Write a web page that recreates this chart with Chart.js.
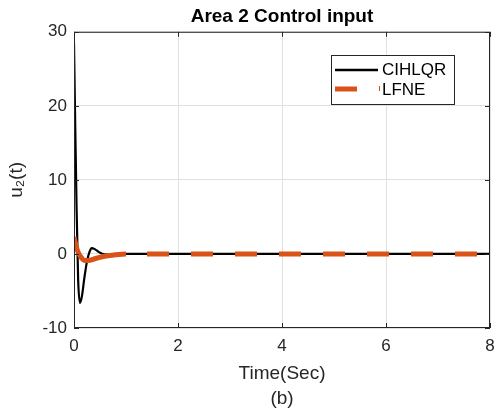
<!DOCTYPE html>
<html>
<head>
<meta charset="utf-8">
<script src="https://cdn.jsdelivr.net/npm/chart.js@4"></script>
<style>
  html, body { margin: 0; padding: 0; background: #fff; }
  canvas { display: block; }
</style>
</head>
<body>
<canvas id="grafico" width="494" height="412"></canvas>
<script>
// CIHLQR (black)
const tiempoNegro = [0, 0.02, 0.05, 0.08, 0.115, 0.15, 0.2, 0.25, 0.3, 0.34, 0.4, 0.48, 0.56, 0.7, 0.9, 1.2, 2, 3, 4, 5, 6, 7, 8];
const uNegro = [28.5, 19, 6, -3.5, -6.6, -5.8, -3.2, -1.0, 0.3, 0.8, 0.65, 0.25, 0.0, -0.1, 0, 0, 0, 0, 0, 0, 0, 0, 0];

// LFNE (orange, dashed)
const tiempoNaranja = [0, 0.03, 0.07, 0.12, 0.18, 0.22, 0.3, 0.4, 0.5, 0.65, 0.8, 1.0, 2, 3, 4, 5, 6, 7, 8];
const uNaranja = [2.3, 1.4, 0.4, -0.3, -0.8, -0.9, -0.85, -0.65, -0.45, -0.25, -0.1, 0, 0, 0, 0, 0, 0, 0, 0];

const etiquetas = ["CIHLQR", "LFNE"];
const fuente = "'Liberation Sans', Arial, sans-serif";
const gris = "#262626";

const puntosNegro = tiempoNegro.map((t, i) => ({ x: t, y: uNegro[i] }));
const puntosNaranja = tiempoNaranja.map((t, i) => ({ x: t, y: uNaranja[i] }));

// marco completo y ticks hacia adentro (estilo MATLAB)
const marco = {
	id: "marco",
	afterDatasetsDraw(chart) {
		const { ctx, chartArea: a, scales } = chart;
		ctx.save();
		ctx.strokeStyle = gris;
		ctx.lineWidth = 1;
		ctx.strokeRect(a.left + 0.5, a.top + 0.5, a.right - a.left - 1, a.bottom - a.top - 1);
		ctx.beginPath();
		scales.x.ticks.forEach(tk => {
			const px = Math.round(scales.x.getPixelForValue(tk.value)) + 0.5;
			ctx.moveTo(px, a.bottom); ctx.lineTo(px, a.bottom - 5);
			ctx.moveTo(px, a.top); ctx.lineTo(px, a.top + 5);
		});
		scales.y.ticks.forEach(tk => {
			const py = Math.round(scales.y.getPixelForValue(tk.value)) + 0.5;
			ctx.moveTo(a.left, py); ctx.lineTo(a.left + 5, py);
			ctx.moveTo(a.right, py); ctx.lineTo(a.right - 5, py);
		});
		ctx.stroke();
		ctx.restore();
	}
};

// leyenda dentro del área del gráfico
const leyenda = {
	id: "leyenda",
	afterDraw(chart) {
		const { ctx } = chart;
		const x0 = 331, y0 = 55, w = 123, h = 49;
		ctx.save();
		ctx.fillStyle = "#fff";
		ctx.fillRect(x0, y0, w, h);
		ctx.strokeStyle = gris;
		ctx.lineWidth = 1;
		ctx.strokeRect(x0 + 0.5, y0 + 0.5, w, h);

		ctx.strokeStyle = "#000";
		ctx.lineWidth = 2.5;
		ctx.beginPath();
		ctx.moveTo(x0 + 4, y0 + 15); ctx.lineTo(x0 + 47, y0 + 15);
		ctx.stroke();

		ctx.strokeStyle = "#D95319";
		ctx.lineWidth = 5;
		ctx.beginPath();
		ctx.moveTo(x0 + 4, y0 + 34); ctx.lineTo(x0 + 26, y0 + 34);
		ctx.stroke();
		ctx.lineWidth = 1;
		ctx.beginPath();
		ctx.moveTo(x0 + 48.5, y0 + 31); ctx.lineTo(x0 + 48.5, y0 + 36);
		ctx.stroke();

		ctx.fillStyle = "#000";
		ctx.font = "17px " + fuente;
		ctx.textBaseline = "middle";
		ctx.textAlign = "left";
		ctx.fillText(etiquetas[0], x0 + 51, y0 + 15);
		ctx.fillText(etiquetas[1], x0 + 51, y0 + 35);
		ctx.restore();
	}
};

const ctx = document.getElementById("grafico").getContext("2d");
new Chart(ctx, {
	type: "line",
	data: {
		datasets: [
			{
				label: etiquetas[0],
				data: puntosNegro,
				borderColor: "#000",
				borderWidth: 2.2,
				pointRadius: 0,
				cubicInterpolationMode: "monotone",
				order: 2
			},
			{
				label: etiquetas[1],
				data: puntosNaranja,
				borderColor: "#D95319",
				borderWidth: 5,
				pointRadius: 0,
				cubicInterpolationMode: "monotone",
				order: 1,
				segment: {
					borderDash: c => c.p0.parsed.x >= 1 ? [22, 22] : undefined,
					borderDashOffset: c => c.p0.parsed.x >= 1 ? 23 : 0
				}
			}
		]
	},
	options: {
		responsive: false,
		animation: false,
		layout: { padding: { left: 0, right: 4, top: 0, bottom: 0 } },
		plugins: {
			legend: { display: false },
			tooltip: { enabled: false },
			title: {
				display: true,
				text: "Area 2 Control input",
				fullSize: false,
				color: "#000",
				font: { family: fuente, size: 19, weight: "bold", lineHeight: 1.2 },
				padding: { top: 5, bottom: 4 }
			}
		},
		scales: {
			x: {
				type: "linear",
				min: 0,
				max: 8,
				afterFit: s => { s.height = 84; s.paddingLeft = 0; s.paddingRight = 0; },
				ticks: { stepSize: 2, color: gris, font: { family: fuente, size: 17 }, padding: 8, maxRotation: 0 },
				grid: { color: "#e0e0e0", tickLength: 0 },
				border: { display: false },
				title: {
					display: true,
					text: ["Time(Sec)", "(b)"],
					color: gris,
					font: { family: fuente, size: 19, lineHeight: "25px" },
					padding: { top: 0, bottom: 0.5 }
				}
			},
			y: {
				min: -10,
				max: 30,
				afterFit: s => { s.width = 74; s.paddingTop = 0; s.paddingBottom = 0; },
				ticks: { stepSize: 10, color: gris, font: { family: fuente, size: 17 }, padding: 7 },
				grid: { color: "#e0e0e0", tickLength: 0 },
				border: { display: false },
				title: {
					display: true,
					text: "u₂(t)",
					color: gris,
					font: { family: fuente, size: 19, lineHeight: 1.2 },
					padding: { top: 5.6, bottom: 0 }
				}
			}
		}
	},
	plugins: [marco, leyenda]
});
</script>
</body>
</html>
